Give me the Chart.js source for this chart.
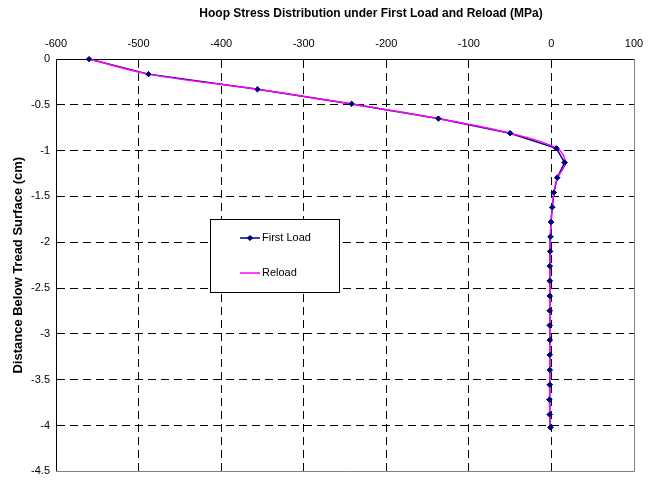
<!DOCTYPE html>
<html>
<head>
<meta charset="utf-8">
<script src="https://cdn.jsdelivr.net/npm/chart.js@4.4.1/dist/chart.umd.min.js"></script>
<style>
  html, body { margin: 0; padding: 0; background: #fff; }
  #wrap { width: 657px; height: 484px; }
</style>
</head>
<body>
<div id="wrap"><canvas id="c" width="657" height="484"></canvas></div>
<script>
// Chart text
const chartTitle = 'Hoop Stress Distribution under First Load and Reload (MPa)';
const yAxisTitle = 'Distance Below Tread Surface (cm)';
const seriesNames = ['First Load', 'Reload'];

// Depth below the tread surface (cm)
const depths = [0, -0.165, -0.33, -0.49, -0.65, -0.81, -0.975, -1.13, -1.295, -1.457,
  -1.618, -1.779, -1.94, -2.10, -2.26, -2.42, -2.585, -2.746, -2.907, -3.068,
  -3.228, -3.393, -3.554, -3.718, -3.879, -4.02];

// Hoop stress (MPa) at each depth
const firstLoad = [-560, -488, -356, -242, -137, -50, 6, 16, 7, 3,
  1, -0.5, -1.2, -1.6, -2, -2, -2, -2, -2, -2,
  -2, -2, -2, -2.4, -2, -1.2];
const reload = [-560, -488, -356, -242, -137, -50, 7, 17, 7.5, 3,
  1, -0.5, -1.2, -1.6, -2, -2, -2, -2, -2, -2,
  -2, -2, -2, -2.4, -2, -1.2];

// Axis ranges and tick steps
const xRange = [-600, 100];
const xStep = 100;
const yRange = [-4.5, 0];
const yStep = 0.5;

const FONT = '"Liberation Sans", Arial, sans-serif';
const toPoints = (xs) => xs.map((x, i) => ({ x: x, y: depths[i] }));

// Title drawn above the top axis
const titlePlugin = {
  id: 'topTitle',
  afterDraw(chart) {
    const ctx = chart.ctx;
    ctx.save();
    ctx.font = 'bold 12px ' + FONT;
    ctx.fillStyle = '#000';
    ctx.textAlign = 'center';
    ctx.textBaseline = 'middle';
    ctx.fillText(chartTitle, 371, 14);
    ctx.restore();
  }
};

// Grey frame on the right and bottom of the plot area
const framePlugin = {
  id: 'frame',
  beforeDatasetsDraw(chart) {
    const { ctx, chartArea: a } = chart;
    ctx.save();
    ctx.strokeStyle = '#808080';
    ctx.lineWidth = 1;
    ctx.beginPath();
    ctx.moveTo(Math.round(a.right) + 0.5, a.top);
    ctx.lineTo(Math.round(a.right) + 0.5, Math.round(a.bottom) + 0.5);
    ctx.lineTo(a.left, Math.round(a.bottom) + 0.5);
    ctx.stroke();
    ctx.restore();
  }
};

// First Load markers sit above both lines
const markersOnTopPlugin = {
  id: 'markersOnTop',
  afterDatasetsDraw(chart) {
    const meta = chart.getDatasetMeta(0);
    meta.data.forEach((pt) => pt.draw(chart.ctx, chart.chartArea));
  }
};

// Boxed legend inside the plot area
const boxLegendPlugin = {
  id: 'boxLegend',
  afterDraw(chart) {
    const ctx = chart.ctx;
    const box = { x: 210.5, y: 219.5, w: 129, h: 73 };
    ctx.save();
    ctx.fillStyle = '#fff';
    ctx.fillRect(box.x, box.y, box.w, box.h);
    ctx.strokeStyle = '#000';
    ctx.lineWidth = 1;
    ctx.strokeRect(box.x, box.y, box.w, box.h);
    const rows = [238, 273];
    chart.data.datasets.forEach((ds, i) => {
      const y = rows[i];
      ctx.strokeStyle = ds.borderColor;
      ctx.lineWidth = ds.borderWidth;
      ctx.beginPath();
      ctx.moveTo(240, y);
      ctx.lineTo(260, y);
      ctx.stroke();
      if (ds.pointRadius > 0) {
        ctx.fillStyle = ds.pointBackgroundColor;
        ctx.strokeStyle = ds.pointBorderColor;
        ctx.lineWidth = ds.pointBorderWidth;
        Chart.helpers.drawPoint(ctx, {
          pointStyle: ds.pointStyle, radius: ds.pointRadius,
          borderWidth: ds.pointBorderWidth, rotation: 0
        }, 250, y);
      }
      ctx.fillStyle = '#000';
      ctx.font = '11px ' + FONT;
      ctx.textAlign = 'left';
      ctx.textBaseline = 'middle';
      ctx.fillText(ds.label, 262, y);
    });
    ctx.restore();
  }
};

new Chart(document.getElementById('c'), {
  type: 'line',
  data: {
    datasets: [
      {
        label: seriesNames[0],
        data: toPoints(firstLoad),
        borderColor: '#000080',
        backgroundColor: '#000080',
        borderWidth: 1.5,
        tension: 0,
        pointStyle: 'rectRot',
        pointRadius: 2.6,
        pointBorderWidth: 1,
        pointBackgroundColor: '#000080',
        pointBorderColor: '#000080',
        fill: false,
        order: 1
      },
      {
        label: seriesNames[1],
        data: toPoints(reload),
        borderColor: '#ff00ff',
        backgroundColor: '#ff00ff',
        borderWidth: 1.5,
        tension: 0.35,
        pointRadius: 0,
        fill: false,
        order: 0
      }
    ]
  },
  options: {
    responsive: false,
    animation: false,
    events: [],
    layout: { padding: { left: 0, top: 26, right: 23, bottom: 5 } },
    plugins: {
      legend: { display: false },
      title: { display: false },
      tooltip: { enabled: false }
    },
    scales: {
      x: {
        type: 'linear',
        position: 'top',
        min: xRange[0],
        max: xRange[1],
        ticks: {
          stepSize: xStep,
          padding: 8,
          color: '#000',
          font: { family: FONT, size: 11 }
        },
        grid: {
          drawTicks: false,
          color: (c) => (c.tick && c.tick.value === xRange[1]) ? 'rgba(0,0,0,0)' : '#000',
          lineWidth: 1
        },
        border: { display: true, color: '#000', width: 1, dash: [8, 5] },
        afterFit(scale) { scale.height = 33; }
      },
      y: {
        type: 'linear',
        min: yRange[0],
        max: yRange[1],
        ticks: {
          stepSize: yStep,
          padding: 6,
          color: '#000',
          font: { family: FONT, size: 11 },
          callback: (v) => String(Math.round(v * 10) / 10)
        },
        grid: {
          drawTicks: false,
          color: (c) => (c.tick && c.tick.value === yRange[0]) ? 'rgba(0,0,0,0)' : '#000',
          lineWidth: 1
        },
        border: { display: true, color: '#000', width: 1, dash: [8, 5] },
        title: {
          display: true,
          text: yAxisTitle,
          color: '#000',
          font: { family: FONT, size: 13, weight: 'bold' },
          padding: { top: 11, bottom: 0 }
        },
        afterFit(scale) { scale.width = 56; }
      }
    }
  },
  plugins: [framePlugin, markersOnTopPlugin, boxLegendPlugin, titlePlugin]
});
</script>
</body>
</html>
